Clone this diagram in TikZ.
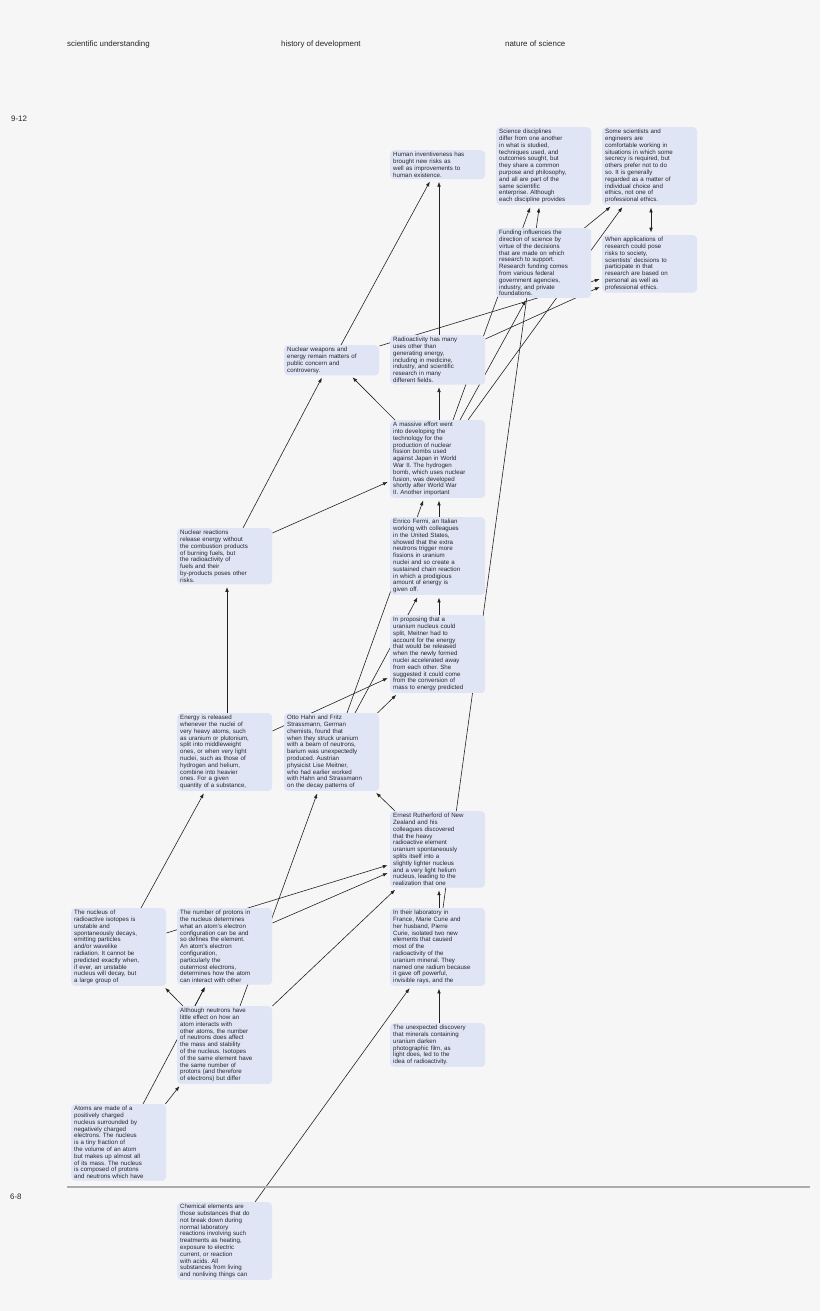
\documentclass[tikz,border=0pt]{standalone}
\usepackage{fontspec}
\setmainfont{Liberation Sans}
\usepackage{xcolor}
\definecolor{map-bg}{RGB}{246,246,246}
\definecolor{map-box}{RGB}{224,229,245}
\definecolor{map-text}{RGB}{38,38,38}
\definecolor{map-line}{RGB}{35,35,35}
\definecolor{map-rule}{RGB}{172,172,172}
\usetikzlibrary{arrows.meta}
\pgfdeclarelayer{bglayer}
\pgfdeclarelayer{edgelayer}
\pgfsetlayers{bglayer,edgelayer,main}
\frenchspacing

\begin{document}
\begin{tikzpicture}[x=1pt,y=-1pt,
    idea/.style={fill=map-box,rounded corners=4pt,anchor=north west,text width=89pt,inner xsep=3pt,inner ysep=2pt,align=left,text=map-text,font=\fontsize{6.15}{6.8}\selectfont},
    head/.style={anchor=west,inner sep=0pt,text=map-text,font=\fontsize{7.9}{9.5}\selectfont},
    link/.style={draw=map-line,line width=0.6pt,-{Latex[length=4.8pt,width=3.6pt]},shorten >=2.5pt},
    both/.style={link,{Latex[length=4.8pt,width=3.6pt]}-{Latex[length=4.8pt,width=3.6pt]},shorten <=2.5pt}]
    \useasboundingbox (0,0) rectangle (820,1311);
    \begin{pgfonlayer}{bglayer}
        \fill[map-bg] (0,0) rectangle (820,1311);
    \end{pgfonlayer}
    % column and grade labels
    \node[head] (hsci) at (67,44) {scientific understanding};
    \node[head] (hhist) at (281,44) {history of development};
    \node[head] (hnat) at (505,44) {nature of science};
    \node[head] (g912) at (11,119) {9-12};
    \node[head] (g68) at (10,1197) {6-8};
    \draw[map-rule,line width=2.7pt] (67,1187) -- (810,1187);
    % 9-12 ideas
    \node[idea] (invent) at (390,150) {Human inventiveness has\\brought new risks as\\well as improvements to\\human existence.};
    \node[idea] (disciplines) at (496,127) {Science disciplines\\differ from one another\\in what is studied,\\techniques used, and\\outcomes sought, but\\they share a common\\purpose and philosophy,\\and all are part of the\\same scientific\\enterprise. Although\\each discipline provides};
    \node[idea] (secrecy) at (602,127) {Some scientists and\\engineers are\\comfortable working in\\situations in which some\\secrecy is required, but\\others prefer not to do\\so. It is generally\\regarded as a matter of\\individual choice and\\ethics, not one of\\professional ethics.};
    \node[idea] (funding) at (496,228) {Funding influences the\\direction of science by\\virtue of the decisions\\that are made on which\\research to support.\\Research funding comes\\from various federal\\government agencies,\\industry, and private\\foundations.};
    \node[idea] (ethics) at (602,235) {When applications of\\research could pose\\risks to society,\\scientists' decisions to\\participate in that\\research are based on\\personal as well as\\professional ethics.};
    \node[idea] (weapons) at (284,345) {Nuclear weapons and\\energy remain matters of\\public concern and\\controversy.};
    \node[idea] (uses) at (390,335) {Radioactivity has many\\uses other than\\generating energy,\\including in medicine,\\industry, and scientific\\research in many\\different fields.};
    \node[idea] (effort) at (390,420) {A massive effort went\\into developing the\\technology for the\\production of nuclear\\fission bombs used\\against Japan in World\\War II. The hydrogen\\bomb, which uses nuclear\\fusion, was developed\\shortly after World War\\II. Another important};
    \node[idea] (reactions) at (177,528) {Nuclear reactions\\release energy without\\the combustion products\\of burning fuels, but\\the radioactivity of\\fuels and their\\by-products poses other\\risks.};
    \node[idea] (fermi) at (390,517) {Enrico Fermi, an Italian\\working with colleagues\\in the United States,\\showed that the extra\\neutrons trigger more\\fissions in uranium\\nuclei and so create a\\sustained chain reaction\\in which a prodigious\\amount of energy is\\given off.};
    \node[idea] (meitner) at (390,615) {In proposing that a\\uranium nucleus could\\split, Meitner had to\\account for the energy\\that would be released\\when the newly formed\\nuclei accelerated away\\from each other. She\\suggested it could come\\from the conversion of\\mass to energy predicted};
    \node[idea] (release) at (177,713) {Energy is released\\whenever the nuclei of\\very heavy atoms, such\\as uranium or plutonium,\\split into middleweight\\ones, or when very light\\nuclei, such as those of\\hydrogen and helium,\\combine into heavier\\ones. For a given\\quantity of a substance,};
    \node[idea] (hahn) at (284,713) {Otto Hahn and Fritz\\Strassmann, German\\chemists, found that\\when they struck uranium\\with a beam of neutrons,\\barium was unexpectedly\\produced. Austrian\\physicist Lise Meitner,\\who had earlier worked\\with Hahn and Strassmann\\on the decay patterns of};
    \node[idea] (rutherford) at (390,811) {Ernest Rutherford of New\\Zealand and his\\colleagues discovered\\that the heavy\\radioactive element\\uranium spontaneously\\splits itself into a\\slightly lighter nucleus\\and a very light helium\\nucleus, leading to the\\realization that one};
    \node[idea] (decay) at (71,908) {The nucleus of\\radioactive isotopes is\\unstable and\\spontaneously decays,\\emitting particles\\and/or wavelike\\radiation. It cannot be\\predicted exactly when,\\if ever, an unstable\\nucleus will decay, but\\a large group of};
    \node[idea] (protons) at (177,908) {The number of protons in\\the nucleus determines\\what an atom's electron\\configuration can be and\\so defines the element.\\An atom's electron\\configuration,\\particularly the\\outermost electrons,\\determines how the atom\\can interact with other};
    \node[idea] (curie) at (390,908) {In their laboratory in\\France, Marie Curie and\\her husband, Pierre\\Curie, isolated two new\\elements that caused\\most of the\\radioactivity of the\\uranium mineral. They\\named one radium because\\it gave off powerful,\\invisible rays, and the};
    \node[idea] (neutrons) at (177,1006) {Although neutrons have\\little effect on how an\\atom interacts with\\other atoms, the number\\of neutrons does affect\\the mass and stability\\of the nucleus. Isotopes\\of the same element have\\the same number of\\protons (and therefore\\of electrons) but differ};
    \node[idea] (film) at (390,1023) {The unexpected discovery\\that minerals containing\\uranium darken\\photographic film, as\\light does, led to the\\idea of radioactivity.};
    \node[idea] (atoms) at (71,1104) {Atoms are made of a\\positively charged\\nucleus surrounded by\\negatively charged\\electrons. The nucleus\\is a tiny fraction of\\the volume of an atom\\but makes up almost all\\of its mass. The nucleus\\is composed of protons\\and neutrons which have};
    % 6-8 idea
    \node[idea] (elements) at (177,1202) {Chemical elements are\\those substances that do\\not break down during\\normal laboratory\\reactions involving such\\treatments as heating,\\exposure to electric\\current, or reaction\\with acids. All\\substances from living\\and nonliving things can};
    % connections, drawn under the boxes
    \begin{pgfonlayer}{edgelayer}
    \draw[link] ([xshift=57pt]weapons.north west) -- ([xshift=41pt]invent.south west);
    \draw[link] ([xshift=49pt]uses.north west) -- ([xshift=49pt]invent.south west);
    \draw[link] ([xshift=63pt]effort.north west) -- ([xshift=35pt]disciplines.south west);
    \draw[link] ([xshift=53pt]curie.north west) -- ([xshift=43.5pt]disciplines.south west);
    \draw[link] ([xshift=-7pt]funding.north east) -- ([xshift=10.5pt]secrecy.south west);
    \draw[link] ([xshift=78pt]effort.north west) -- ([xshift=21.8pt]secrecy.south west);
    \draw[both] ([xshift=49pt]secrecy.south west) -- ([xshift=49pt]ethics.north west);
    \draw[link] ([yshift=-1pt]weapons.north east) -- ([yshift=-43.4pt]ethics.north west);
    \draw[link] ([yshift=-4pt]uses.north east) -- ([yshift=-51pt]ethics.north west);
    \draw[link] ([xshift=70pt]effort.north west) -- ([xshift=31pt]funding.south west);
    \draw[link] ([xshift=5pt]effort.north west) -- ([xshift=66.7pt]weapons.south west);
    \draw[link] ([xshift=66pt]reactions.north west) -- ([xshift=39pt]weapons.south west);
    \draw[link] ([xshift=49pt]effort.north west) -- ([xshift=49pt]uses.south west);
    \draw[link] ([xshift=49pt]fermi.north west) -- ([xshift=49pt]effort.south west);
    \draw[link] ([xshift=63pt]hahn.north west) -- ([xshift=34pt]effort.south west);
    \draw[link] ([yshift=-5pt]reactions.north east) -- ([yshift=-61pt]effort.north west);
    \draw[link] ([xshift=50pt]release.north west) -- ([xshift=50pt]reactions.south west);
    \draw[link] ([xshift=49pt]meitner.north west) -- ([xshift=49pt]fermi.south west);
    \draw[link] ([xshift=71pt]hahn.north west) -- ([xshift=28.6pt]fermi.south west);
    \draw[link] ([yshift=-18pt]release.north east) -- ([yshift=-62pt]meitner.north west);
    \draw[link] ([xshift=-2pt]hahn.north east) -- ([xshift=8pt]meitner.south west);
    \draw[link] ([xshift=70pt]decay.north west) -- ([xshift=28pt]release.south west);
    \draw[link] ([xshift=5pt]rutherford.north west) -- ([xshift=-5pt]hahn.south east);
    \draw[link] ([xshift=63pt]neutrons.north west) -- ([xshift=34pt]hahn.south west);
    \draw[link] ([yshift=-25pt]decay.north east) -- ([yshift=-53.5pt]rutherford.north west);
    \draw[link] ([yshift=-15pt]protons.north east) -- ([yshift=-61pt]rutherford.north west);
    \draw[link] (neutrons.north east) -- ([xshift=7pt]rutherford.south west);
    \draw[link] ([xshift=49pt]curie.north west) -- ([xshift=49pt]rutherford.south west);
    \draw[link] ([xshift=6pt]neutrons.north west) -- ([xshift=-3pt]decay.south east);
    \draw[link] ([xshift=18pt]neutrons.north west) -- ([xshift=29pt]protons.south west);
    \draw[link] ([xshift=72pt]atoms.north west) -- ([xshift=29pt]protons.south west);
    \draw[link] ([xshift=49pt]film.north west) -- ([xshift=49pt]curie.south west);
    \draw[link] ([xshift=78pt]elements.north west) -- ([xshift=21pt]curie.south west);
    \draw[link] ([xshift=-1pt]atoms.north east) -- ([xshift=4pt]neutrons.south west);
    \end{pgfonlayer}
\end{tikzpicture}
\end{document}
